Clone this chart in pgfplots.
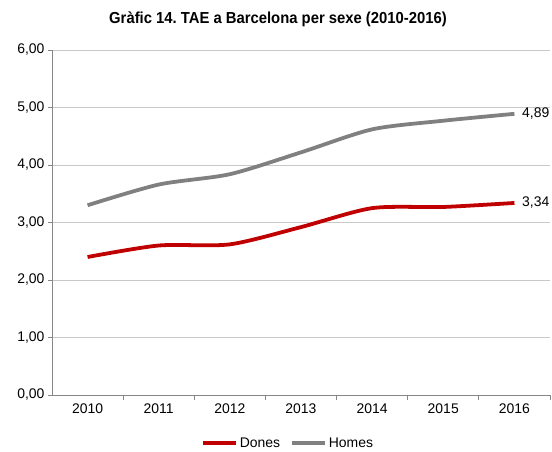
\documentclass[border=0pt]{standalone}
\usepackage{fontspec}
\setmainfont{Liberation Sans}
\usepackage{pgfplots}
\pgfplotsset{compat=1.18}
\definecolor{donescol}{RGB}{192,0,0}
\definecolor{homescol}{RGB}{128,128,128}
\definecolor{gridcol}{RGB}{200,200,200}
\definecolor{axcol}{RGB}{134,134,134}
\frenchspacing

\begin{document}
\begin{tikzpicture}
\path[use as bounding box] (0,0) rectangle (552bp,452bp);
\node[font=\fontsize{16}{18}\selectfont\bfseries] at (278bp,433bp)
  {\scalebox{0.93}[1]{Gràfic 14. TAE a Barcelona per sexe (2010-2016)}};
\begin{axis}[
  at={(52bp,57bp)}, anchor=south west,
  scale only axis, width=498bp, height=345bp,
  xmin=2009.5, xmax=2016.5, ymin=0, ymax=6,
  axis x line*=bottom, axis y line*=left,
  axis line style={axcol, line width=0.8pt, -},
  xtick={2010,...,2016},
  minor xtick={2010.5,2011.5,2012.5,2013.5,2014.5,2015.5,2016.5},
  ytick={0,1,...,6},
  major x tick style={draw=none},
  minor x tick style={axcol, line width=0.8pt},
  y tick style={axcol, line width=0.8pt},
  minor tick length=5bp, major tick length=4bp,
  tick align=outside,
  ymajorgrids, grid style={gridcol, line width=0.8pt},
  every tick label/.append style={font=\fontsize{14}{16}\selectfont},
  /pgf/number format/assume math mode=true,
  x tick label style={/pgf/number format/1000 sep={}, yshift=-1bp},
  y tick label style={/pgf/number format/.cd, fixed, fixed zerofill, precision=2, use comma},
  clip=false,
  legend style={at={(0.474,-0.139)}, anchor=center, draw=none,
    font=\fontsize{14}{16}\selectfont, legend columns=2,
    /tikz/every even column/.append style={column sep=8bp}},
  legend image code/.code={\draw[#1] (0bp,0bp) -- (33bp,0bp);},
]
\addplot[donescol, line width=3.8pt, smooth, tension=0.45] coordinates {
  (2010,2.40)(2011,2.60)(2012,2.62)(2013,2.92)(2014,3.25)(2015,3.27)(2016,3.34)
};
\addlegendentry{Dones}
\addplot[homescol, line width=3.8pt, smooth, tension=0.45] coordinates {
  (2010,3.30)(2011,3.66)(2012,3.84)(2013,4.22)(2014,4.62)(2015,4.77)(2016,4.89)
};
\addlegendentry{Homes}
\node[anchor=west, font=\fontsize{14}{16}\selectfont] at (axis cs:2016.06,4.89) {4,89};
\node[anchor=west, font=\fontsize{14}{16}\selectfont] at (axis cs:2016.06,3.34) {3,34};
\end{axis}
\end{tikzpicture}
\end{document}
